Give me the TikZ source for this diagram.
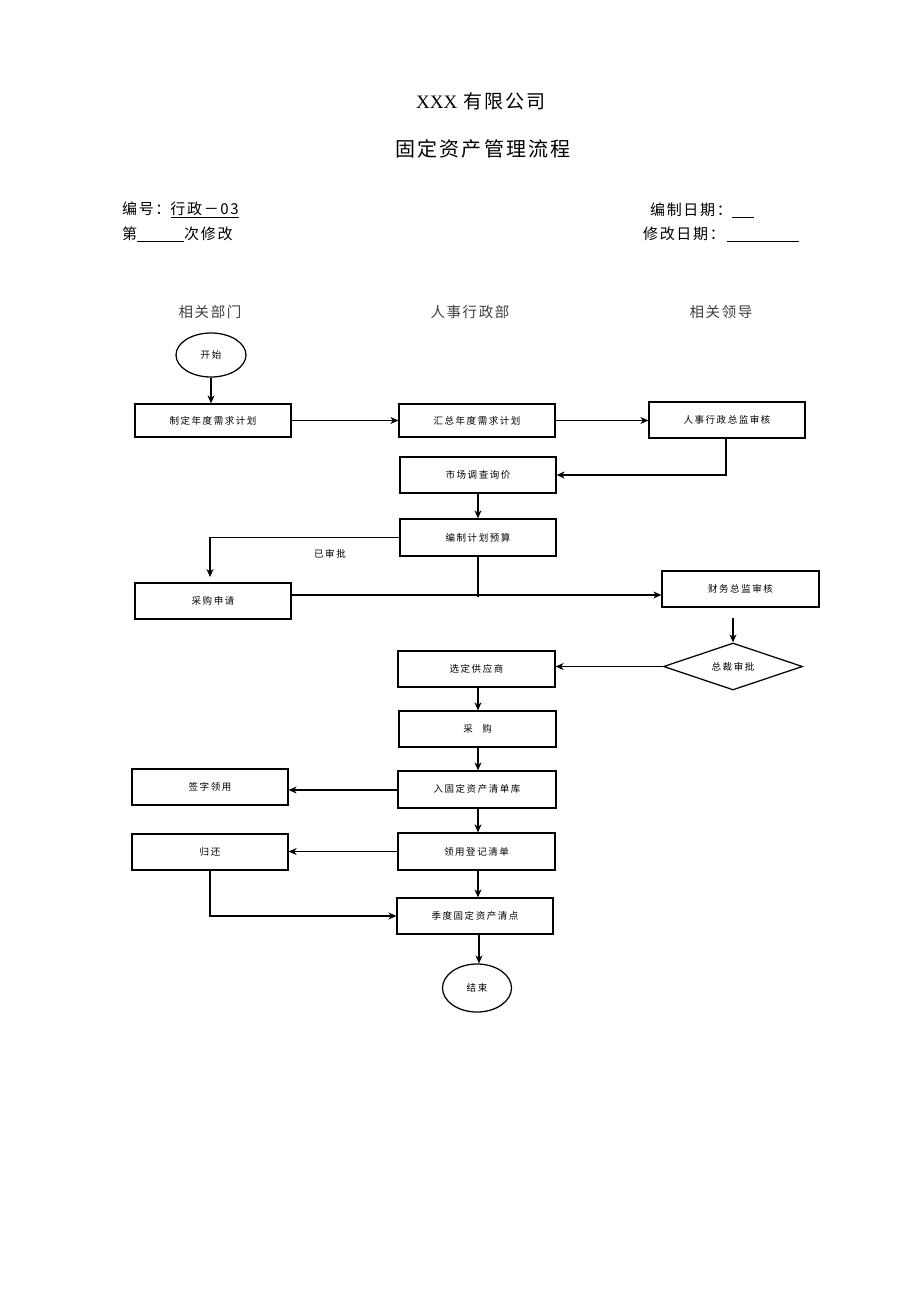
\documentclass[tikz,border=0pt]{standalone}
\usepackage{fontspec}
\setmainfont{Liberation Serif}
\newfontfamily\cjk{Noto Sans CJK SC}
\newfontfamily\cjkw[LetterSpace=11]{Noto Sans CJK SC}
\newfontfamily\cjkb[LetterSpace=16]{Noto Sans CJK SC}
\usetikzlibrary{arrows.meta,shapes.geometric}
\begin{document}
\begin{tikzpicture}[x=1pt,y=-1pt,
  every node/.style={font=\cjk},
  box/.style={draw,line width=1.25pt,inner sep=0pt,font=\cjkb\fontsize{9.5}{10}\selectfont},
  oval/.style={draw,ellipse,line width=1.25pt,inner sep=0pt,font=\cjkb\fontsize{9.5}{10}\selectfont},
  lane/.style={font=\cjkw\fontsize{14.5}{16}\selectfont,text=black!75},
  hdr/.style={font=\cjkw\fontsize{15}{16}\selectfont,anchor=west,inner sep=0pt},
  conn/.style={line width=1.25pt,-{Stealth[length=8pt,width=7pt,inset=2.5pt]}},
  plain/.style={line width=1.25pt}]
\useasboundingbox (0,0) rectangle (920,1302);
% titles
\node[font=\cjkw\fontsize{19}{22}\selectfont] (t1) at (481,101) {{\rmfamily XXX} 有限公司};
\node[font=\cjkw\fontsize{20}{22}\selectfont] (t2) at (483,149) {固定资产管理流程};
\node[hdr] (h1) at (122,210) {编号：\underline{行政－03}};
\node[hdr] (h2) at (122,234) {第\underline{\hspace{47pt}}次修改};
\node[hdr] (h3) at (650,210) {编制日期：\underline{\hspace{22pt}}};
\node[hdr] (h4) at (643,234) {修改日期：\,\underline{\hspace{72pt}}};
% lanes
\node[lane] (l1) at (210,312) {相关部门};
\node[lane] (l2) at (470,312) {人事行政部};
\node[lane] (l3) at (721,312) {相关领导};
% nodes
\node[oval,minimum width=70pt,minimum height=44pt] (start) at (211,355) {开始};
\node[box,minimum width=156pt,minimum height=33pt] (b1) at (213,420.5) {制定年度需求计划};
\node[box,minimum width=156pt,minimum height=33pt] (b2) at (477,420.5) {汇总年度需求计划};
\node[box,minimum width=156pt,minimum height=36pt] (b3) at (727,420) {人事行政总监审核};
\node[box,minimum width=156pt,minimum height=36pt] (b4) at (478,475) {市场调查询价};
\node[box,minimum width=156pt,minimum height=37pt] (b5) at (478,537.5) {编制计划预算};
\node[box,minimum width=156pt,minimum height=36pt] (b6) at (213,601) {采购申请};
\node[box,minimum width=157pt,minimum height=36pt] (b7) at (740.5,589) {财务总监审核};
\node[draw,diamond,aspect=3,line width=1.25pt,inner sep=0pt,minimum width=139pt,minimum height=47pt,font=\cjkb\fontsize{9.5}{10}\selectfont] (d1) at (733,666.5) {总裁审批};
\node[box,minimum width=157pt,minimum height=36pt] (b8) at (476.5,669) {选定供应商};
\node[box,minimum width=157pt,minimum height=36pt] (b9) at (477.5,729) {采\quad 购};
\node[box,minimum width=158pt,minimum height=37pt] (b10) at (477,789.5) {\raisebox{3pt}{入固定资产清单库}};
\node[box,minimum width=156pt,minimum height=36pt] (b11) at (210,787) {签字领用};
\node[box,minimum width=157pt,minimum height=37pt] (b12) at (476.5,851.5) {领用登记清单};
\node[box,minimum width=156pt,minimum height=36pt] (b13) at (210,852) {归还};
\node[box,minimum width=156pt,minimum height=36pt] (b14) at (475,916) {季度固定资产清点};
\node[oval,minimum width=69pt,minimum height=48pt] (end) at (477,988) {结束};
\node[font=\cjkb\fontsize{9.5}{10}\selectfont] (lab) at (330,554) {已审批};
% connectors
\draw[conn] (start.south) -- (b1.north -| start.south);
\draw[conn] (b1.east) -- (b2.west);
\draw[conn] (b2.east) -- (b3.west |- b2.east);
\coordinate (c1) at (726,438);
\draw[conn] (c1) -- (726,475) -- (b4.east);
\draw[conn] (b4.south) -- (b5.north);
\draw[conn] (b5.west) -- (210,537.5) -- (210,577);
\coordinate (c2) at (478,597);
\draw[plain] (b5.south) -- (c2);
\draw[conn] (b6.east |- 0,595) -- (b7.west |- 0,595);
\coordinate (c3) at (733,618);
\draw[conn] (c3) -- (d1.north);
\draw[conn] (d1.west) -- (b8.east |- d1.west);
\draw[conn] (b8.south -| 478,0) -- (b9.north -| 478,0);
\draw[conn] (b9.south -| 478,0) -- (b10.north -| 478,0);
\draw[conn] (b10.west |- 0,790) -- (b11.east |- 0,790);
\draw[conn] (b10.south -| 478,0) -- (b12.north -| 478,0);
\draw[conn] (b12.west) -- (b13.east |- b12.west);
\draw[conn] (b12.south -| 478,0) -- (b14.north -| 478,0);
\draw[conn] (b13.south) -- (210,916) -- (b14.west);
\draw[conn] (b14.south -| 479,0) -- (end.north -| 479,0);
\end{tikzpicture}
\end{document}
